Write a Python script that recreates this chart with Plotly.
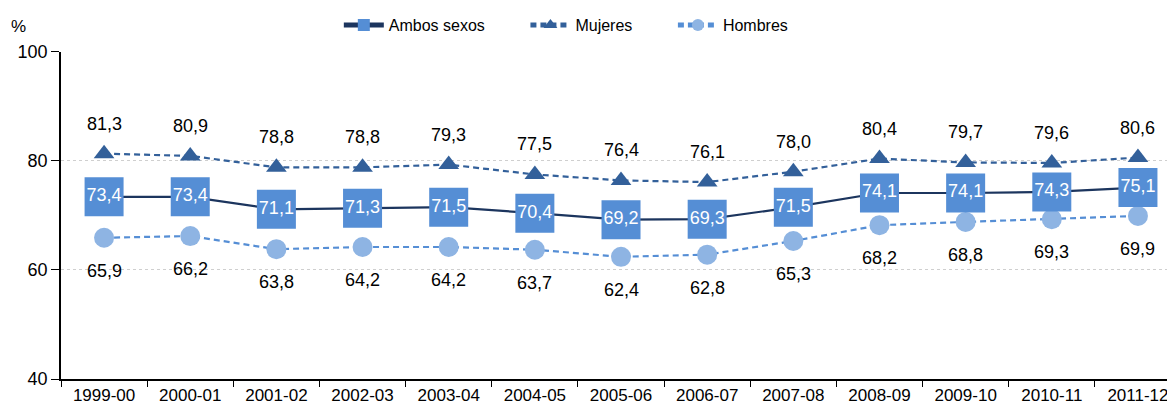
import plotly.graph_objects as go

categories = ["1999-00", "2000-01", "2001-02", "2002-03", "2003-04", "2004-05", "2005-06",
              "2006-07", "2007-08", "2008-09", "2009-10", "2010-11", "2011-12"]
ambos = [73.4, 73.4, 71.1, 71.3, 71.5, 70.4, 69.2, 69.3, 71.5, 74.1, 74.1, 74.3, 75.1]
mujeres = [81.3, 80.9, 78.8, 78.8, 79.3, 77.5, 76.4, 76.1, 78.0, 80.4, 79.7, 79.6, 80.6]
hombres = [65.9, 66.2, 63.8, 64.2, 64.2, 63.7, 62.4, 62.8, 65.3, 68.2, 68.8, 69.3, 69.9]
y_ticks = [40, 60, 80, 100]

FONT = "Liberation Sans, Arial, sans-serif"
PAD = "\u00a0" * 8


def fmt(v):
    return f"{v:.1f}".replace(".", ",")


fig = go.Figure()

fig.add_trace(go.Scatter(
    x=categories, y=hombres, name="Hombres", mode="lines+markers", legendrank=3,
    line=dict(color="#558ED5", width=2.2, dash="6px,4px"),
    marker=dict(symbol="circle", size=20, color="#8EB4E3"),
    cliponaxis=False,
))
fig.add_trace(go.Scatter(
    x=categories, y=mujeres, name="Mujeres" + PAD, mode="lines+markers", legendrank=2,
    line=dict(color="#33609A", width=2.2, dash="6px,4px"),
    marker=dict(symbol="triangle-up", size=18, color="#33609A"),
    cliponaxis=False,
))
fig.add_trace(go.Scatter(
    x=categories, y=ambos, name="Ambos sexos" + PAD, mode="lines+markers+text", legendrank=1,
    line=dict(color="#1C355E", width=2.2),
    marker=dict(symbol="square", size=39, color="#558ED5"),
    text=[fmt(v) for v in ambos], textposition="middle center",
    textfont=dict(color="white", size=18, family=FONT),
    cliponaxis=False,
))

annotations = []
for c, v in zip(categories, mujeres):
    annotations.append(dict(x=c, y=v, text=fmt(v), showarrow=False, yshift=30,
                            font=dict(size=18, color="black", family=FONT)))
for c, v in zip(categories, hombres):
    annotations.append(dict(x=c, y=v, text=fmt(v), showarrow=False, yshift=-33,
                            font=dict(size=18, color="black", family=FONT)))
annotations.append(dict(xref="paper", yref="paper", x=0, y=1.0, xshift=-43, yshift=25,
                        text="%", showarrow=False, xanchor="center", yanchor="middle",
                        font=dict(size=17, color="black", family=FONT)))

fig.update_layout(
    width=1167, height=402,
    margin=dict(l=53, r=0, t=39, b=31),
    paper_bgcolor="white", plot_bgcolor="white",
    font=dict(family=FONT, size=17, color="black"),
    showlegend=True,
    legend=dict(orientation="h", xref="container", yref="container",
                x=0.478, xanchor="center", y=1.0, yanchor="top",
                font=dict(size=16, family=FONT), itemwidth=40, itemsizing="constant",
                bgcolor="rgba(0,0,0,0)"),
    annotations=annotations,
)

fig.update_xaxes(
    type="category", range=[-0.5, 12.43],
    showline=True, linecolor="black", linewidth=1.5,
    ticks="outside", tickson="boundaries", ticklen=6, tickcolor="black",
    showgrid=False, tickfont=dict(size=17, family=FONT), fixedrange=True,
)
fig.update_yaxes(
    range=[40, 100], tickvals=y_ticks,
    showline=True, linecolor="black", linewidth=1.5,
    ticks="outside", ticklen=8, tickcolor="black",
    showgrid=True, gridcolor="#CFCFCF", griddash="dot", gridwidth=1,
    zeroline=False, tickfont=dict(size=18, family=FONT), fixedrange=True,
)

fig.write_html("out.html")
